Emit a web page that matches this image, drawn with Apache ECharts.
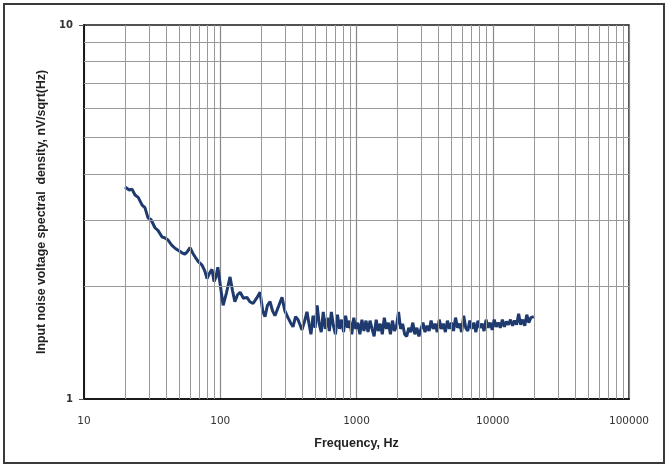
<!DOCTYPE html>
<html>
<head>
<meta charset="utf-8">
<script src="https://cdn.jsdelivr.net/npm/echarts@6/dist/echarts.min.js"></script>
<style>
html,body{margin:0;padding:0;background:#fff;}
#c{width:667px;height:466px;}
</style>
</head>
<body>
<div id="c"></div>
<script>
// Frequencies (Hz) and noise density (nV/sqrt(Hz))
var freqs = [20,21.5,22.5,23.7,25,26.7,28,29.5,31,33.2,35,37.4,39,41.4,44,46.6,49,52.4,55,57,60,63,65.3,69,73.5,77,80,84,87,90,93,96,100,105,111,118,123,128,134,140,148,157,165,174,185,196,205,213,222,232,242,252,268,284,298,314,328,342,357,372,385,398,415,
  433,448,463,480,497,514,532,551,570,590,
  611,632,654,677,701,725,751,777,804,832,
  861,891,923,955,988,1023,1059,1096,1134,1174,
  1215,1257,1301,1347,1394,1443,1493,1546,1600,1656,
  1714,1774,1836,1900,1967,2035,2107,2180,2257,2336,
  2418,2502,2590,2680,2774,2871,2972,3076,3183,3295,
  3410,3529,3653,3781,3913,4050,4192,4338,4490,4647,
  4810,4978,5152,5333,5519,5712,5912,6119,6333,6555,
  6784,7022,7267,7522,7785,8057,8339,8631,8933,9246,
  9570,9905,10251,10610,10981,11366,11764,12175,12602,13043,
  13499,13972,14461,14967,15491,16033,16594,17175,17776,18398,19042,20000];
var noise = [3.69,3.62,3.64,3.51,3.46,3.30,3.25,3.05,3.02,2.87,2.82,2.71,2.70,2.66,2.58,2.53,2.50,2.46,2.44,2.47,2.54,2.45,2.40,2.33,2.28,2.20,2.10,2.18,2.22,2.06,2.12,2.25,2.02,1.78,1.92,2.12,1.95,1.82,1.90,1.93,1.86,1.87,1.82,1.80,1.86,1.93,1.72,1.66,1.78,1.82,1.72,1.67,1.77,1.87,1.72,1.65,1.60,1.56,1.66,1.63,1.58,1.53,1.61,
  1.71,1.59,1.49,1.67,1.55,1.78,1.59,1.51,1.71,1.54,
  1.65,1.52,1.71,1.57,1.49,1.68,1.54,1.63,1.51,1.67,
  1.55,1.62,1.49,1.65,1.54,1.60,1.49,1.63,1.52,1.62,
  1.51,1.62,1.54,1.47,1.63,1.52,1.59,1.49,1.65,1.54,
  1.60,1.49,1.62,1.52,1.57,1.71,1.54,1.59,1.49,1.47,
  1.55,1.51,1.60,1.49,1.55,1.47,1.54,1.60,1.51,1.57,
  1.52,1.62,1.54,1.59,1.51,1.63,1.54,1.59,1.51,1.62,
  1.54,1.60,1.52,1.65,1.55,1.59,1.51,1.67,1.55,1.52,
  1.62,1.54,1.60,1.51,1.62,1.55,1.59,1.52,1.63,1.55,
  1.60,1.53,1.63,1.56,1.60,1.55,1.63,1.56,1.61,1.58,
  1.63,1.57,1.62,1.58,1.69,1.58,1.63,1.57,1.68,1.60,1.65,1.66];
var xMinorGrid = [20,30,40,50,60,70,80,90,200,300,400,500,600,700,800,900,2000,3000,4000,5000,6000,7000,8000,9000,20000,30000,40000,50000,60000,70000,80000,90000];
var yMinorGrid = [2,3,4,5,6,7,8,9];
var xTitle = 'Frequency, Hz';
var yTitle = 'Input noise voltage spectral  density, nV/sqrt(Hz)';

var chart = echarts.init(document.getElementById('c'), null, {renderer:'canvas'});
var pts = freqs.map(function(f,i){return [f, noise[i]];});
var gridLines = xMinorGrid.map(function(v){return {xAxis:v};}).concat(yMinorGrid.map(function(v){return {yAxis:v};}));

chart.setOption({
  backgroundColor:'#ffffff',
  animation:false,
  graphic:[{type:'rect', shape:{x:4,y:4,width:660,height:459}, style:{fill:'none', stroke:'#3a3a3a', lineWidth:2}, silent:true}],
  grid:{left:84, right:38, top:25, bottom:67, show:true, borderColor:'#1a1a1a', borderWidth:1.5, backgroundColor:'transparent'},
  xAxis:{type:'log', logBase:10, min:10, max:100000,
    name:xTitle, nameLocation:'middle', nameGap:38,
    nameTextStyle:{fontFamily:'Liberation Sans', fontWeight:'bold', fontSize:12.5, color:'#222'},
    axisLine:{show:true, lineStyle:{color:'#1a1a1a', width:2}},
    axisTick:{show:false},
    axisLabel:{margin:17, fontFamily:'DejaVu Sans', fontSize:10.5, color:'#333', formatter:function(v){return String(Math.round(v));}},
    splitLine:{show:true, lineStyle:{color:'#888', width:1.2}},
    minorTick:{show:false}, minorSplitLine:{show:false}
  },
  yAxis:{type:'log', logBase:10, min:1, max:10,
    name:yTitle, nameLocation:'middle', nameGap:36,
    nameTextStyle:{fontFamily:'Liberation Sans', fontWeight:'bold', fontSize:12.3, color:'#222'},
    axisLine:{show:true, lineStyle:{color:'#1a1a1a', width:2}},
    axisTick:{show:true, inside:false, length:5, lineStyle:{color:'#555'}},
    axisLabel:{margin:11, fontFamily:'DejaVu Sans', fontWeight:'bold', fontSize:10, color:'#333', formatter:function(v){return String(Math.round(v));}},
    splitLine:{show:false}
  },
  series:[
    {type:'line', data:pts, z:1, showSymbol:false, silent:true, lineStyle:{width:0, opacity:0},
      markLine:{silent:true, symbol:['none','none'], label:{show:false}, animation:false,
        lineStyle:{color:'#999', width:1, type:'solid'}, data:gridLines}},
    {type:'line', data:pts, z:3, showSymbol:false, smooth:false,
      lineStyle:{color:'#1f3a6e', width:3}}
  ]
});
</script>
</body>
</html>
